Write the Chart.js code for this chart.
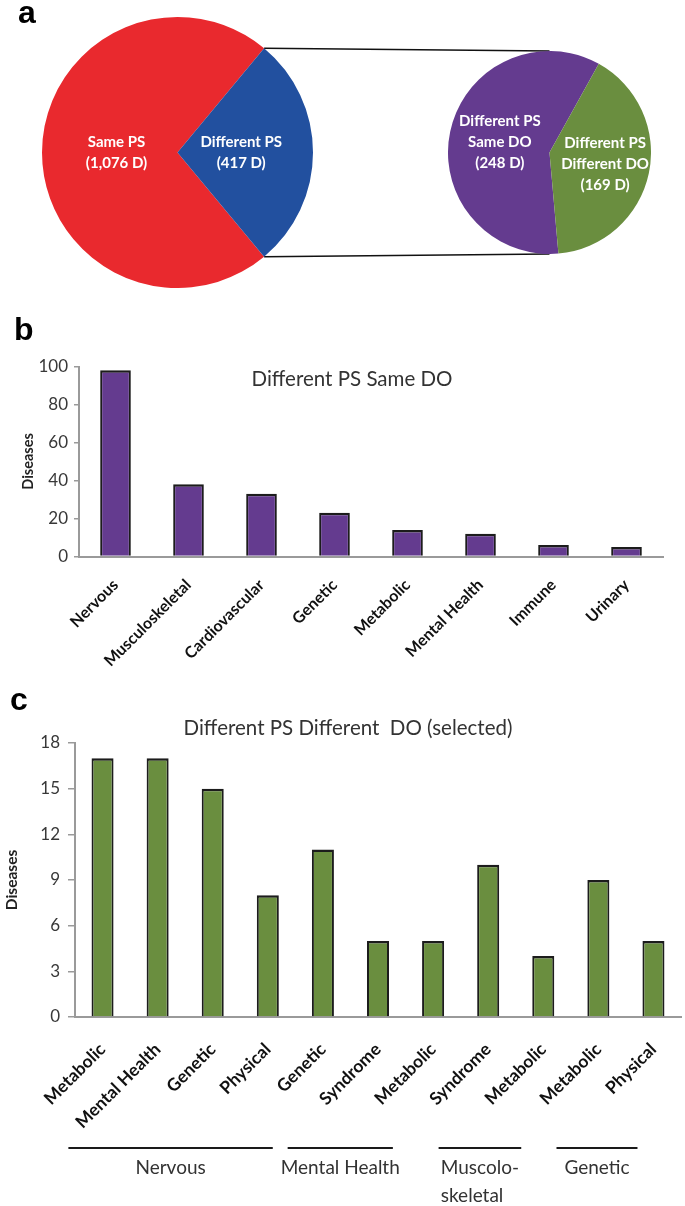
<!DOCTYPE html>
<html>
<head>
<meta charset="utf-8">
<script src="https://cdn.jsdelivr.net/npm/chart.js@4.4.1/dist/chart.umd.min.js"></script>
<style>
  body { margin: 0; background: #fff; }
  #page { position: relative; width: 685px; height: 1206px; overflow: hidden; background: #fff; }
  canvas { position: absolute; }
  .tag { position: absolute; font-family: "Liberation Sans", Arial, sans-serif; font-weight: bold; font-size: 32px; line-height: 1; color: #000; }
</style>
</head>
<body>
<div id="page">
  <canvas id="links" width="685" height="295" style="left:0;top:0"></canvas>
  <canvas id="pieAll" width="271" height="271" style="left:42px;top:17px"></canvas>
  <canvas id="pieDiff" width="203" height="203" style="left:448px;top:51px"></canvas>
  <canvas id="sameDo" width="685" height="380" style="left:0;top:300px"></canvas>
  <canvas id="diffDo" width="685" height="526" style="left:0;top:680px"></canvas>
  <div class="tag" style="left:18px;top:-4px">a</div>
  <div class="tag" style="left:14px;top:313px">b</div>
  <div class="tag" style="left:10px;top:683px">c</div>
</div>
<script>
// panel a: all diseases split by phenotype similarity
const psLabels = ["Same PS", "Different PS"];
const psCounts = [1076, 417];
// zoom pie: the "Different PS" diseases split by disease ontology
const doLabels = ["Different PS\nSame DO", "Different PS\nDifferent DO"];
const doCounts = [248, 169];

// panel b
const sameDoSystems = ["Nervous", "Musculoskeletal", "Cardiovascular", "Genetic",
  "Metabolic", "Mental Health", "Immune", "Urinary"];
const sameDoCounts = [98, 38, 33, 23, 14, 12, 6, 5];
const sameDoTicks = [0, 20, 40, 60, 80, 100];

// panel c
const diffDoTypes = ["Metabolic", "Mental Health", "Genetic", "Physical", "Genetic", "Syndrome",
  "Metabolic", "Syndrome", "Metabolic", "Metabolic", "Physical"];
const diffDoCounts = [17, 17, 15, 8, 11, 5, 5, 10, 4, 9, 5];
const diffDoTicks = [0, 3, 6, 9, 12, 15, 18];
const diffDoGroups = ["Nervous", "Mental Health", "Muscolo-\nskeletal", "Genetic"];

Chart.defaults.font.family = "Lato, 'Open Sans', sans-serif";
Chart.defaults.color = "#404040";

// white text inside each slice
const sliceText = {
  id: "sliceText",
  afterDatasetsDraw(chart, args, opts) {
    const ctx = chart.ctx;
    const arcs = chart.getDatasetMeta(0).data;
    ctx.save();
    ctx.fillStyle = "#fff";
    ctx.font = "bold 15px Lato";
    ctx.textAlign = "center";
    ctx.textBaseline = "middle";
    arcs.forEach((arc, i) => {
      const mid = (arc.startAngle + arc.endAngle) / 2;
      const r = arc.outerRadius * opts.reach[i];
      const cx = arc.x + Math.cos(mid) * r;
      const cy = arc.y + Math.sin(mid) * r;
      const lines = chart.data.labels[i].split("\n");
      lines.push("(" + chart.data.datasets[0].data[i].toLocaleString("en-US") + " D)");
      lines.forEach((t, k) => ctx.fillText(t, cx, cy + (k - (lines.length - 1) / 2) * 21));
    });
    ctx.restore();
  }
};

function pieConfig(labels, counts, colors, rotation, reach) {
  return {
    type: "pie",
    data: { labels: labels, datasets: [{ data: counts, backgroundColor: colors, borderWidth: 0 }] },
    options: {
      responsive: false,
      animation: false,
      rotation: rotation,
      layout: { padding: 0 },
      plugins: { legend: { display: false }, tooltip: { enabled: false }, sliceText: { reach: reach } }
    },
    plugins: [sliceText]
  };
}

const psTotal = psCounts[0] + psCounts[1];
const diffSpan = psCounts[1] / psTotal * 360;
const pieAll = new Chart(document.getElementById("pieAll"),
  pieConfig(psLabels, psCounts, ["#e9292e", "#22509f"], 90 + diffSpan / 2, [0.45, 0.47]));

const doTotal = doCounts[0] + doCounts[1];
const greenSpan = doCounts[1] / doTotal * 360;
const pieDiff = new Chart(document.getElementById("pieDiff"),
  pieConfig(doLabels, doCounts, ["#643b8f", "#6a8e3f"], 90 + 12 + greenSpan / 2, [0.5, 0.56]));

// lines joining the "Different PS" slice to the zoom pie
(function drawLinks() {
  const ctx = document.getElementById("links").getContext("2d");
  const c1 = pieAll.canvas, c2 = pieDiff.canvas;
  const blue = pieAll.getDatasetMeta(0).data[1];
  const zoom = pieDiff.getDatasetMeta(0).data[0];
  const ends = [blue.startAngle, blue.endAngle];
  const tops = [-1, 1];
  ctx.strokeStyle = "#111";
  ctx.lineWidth = 1.6;
  ends.forEach((a, i) => {
    ctx.beginPath();
    ctx.moveTo(c1.offsetLeft + blue.x + Math.cos(a) * blue.outerRadius,
               c1.offsetTop + blue.y + Math.sin(a) * blue.outerRadius);
    ctx.lineTo(c2.offsetLeft + zoom.x, c2.offsetTop + zoom.y + tops[i] * zoom.outerRadius);
    ctx.stroke();
  });
})();

// text caption drawn inside the plot
const plotCaption = {
  id: "plotCaption",
  afterDraw(chart, args, opts) {
    const ctx = chart.ctx;
    ctx.save();
    ctx.font = opts.size + "px Lato";
    ctx.fillStyle = "#333";
    ctx.textAlign = "center";
    ctx.textBaseline = "middle";
    ctx.fillText(opts.text, opts.x, opts.y);
    ctx.restore();
  }
};

// group brackets under panel c
const groupLines = [[-0.62, 3.09], [3.36, 5.27], [6.1, 7.6], [8.24, 9.71]];
const groupBrackets = {
  id: "groupBrackets",
  afterDraw(chart) {
    const ctx = chart.ctx;
    const x = chart.scales.x;
    const step = x.getPixelForTick(1) - x.getPixelForTick(0);
    const px = i => x.getPixelForTick(0) + i * step;
    ctx.save();
    ctx.strokeStyle = "#1a1a1a";
    ctx.lineWidth = 2;
    ctx.fillStyle = "#333";
    ctx.font = "19px Lato";
    ctx.textBaseline = "middle";
    diffDoGroups.forEach((name, g) => {
      const a = px(groupLines[g][0]), b = px(groupLines[g][1]);
      ctx.beginPath();
      ctx.moveTo(a, 468);
      ctx.lineTo(b, 468);
      ctx.stroke();
      const lines = name.split("\n");
      const w = ctx.measureText(lines[0]).width;
      const left = (a + b) / 2 - w / 2;
      lines.forEach((t, k) => ctx.fillText(t, left, 488 + k * 28));
    });
    ctx.restore();
  }
};

function barConfig(opt) {
  return {
    type: "bar",
    data: {
      labels: opt.labels,
      datasets: [{
        data: opt.values,
        backgroundColor: opt.color,
        borderColor: "#1c1c1c",
        borderWidth: { top: 2.5, left: 2, right: 2, bottom: 0 },
        categoryPercentage: 1,
        barPercentage: opt.barPct
      }]
    },
    options: {
      responsive: false,
      animation: false,
      layout: { padding: { top: opt.top, right: opt.right, left: 0, bottom: 0 } },
      plugins: {
        legend: { display: false },
        tooltip: { enabled: false },
        plotCaption: opt.caption
      },
      scales: {
        x: {
          grid: { display: false },
          border: { display: true, color: "#9a9a9a", width: 2 },
          ticks: {
            autoSkip: false, maxRotation: 45, minRotation: 45,
            font: { size: opt.xFont, weight: "bold" }, color: "#111", padding: opt.xPad
          },
          afterFit: s => { s.height = opt.xHeight; }
        },
        y: {
          min: 0,
          max: opt.ticks[opt.ticks.length - 1],
          afterBuildTicks: s => { s.ticks = opt.ticks.map(v => ({ value: v })); },
          grid: { drawOnChartArea: false, drawTicks: true, tickLength: opt.tickLen, color: "#9a9a9a", lineWidth: 1.5 },
          border: { display: true, color: "#9a9a9a", width: 2 },
          ticks: { font: { size: 17 }, color: "#383838", padding: opt.yPad },
          title: {
            display: true, text: "Diseases", color: "#222",
            font: { size: opt.titleFont, weight: "bold" }, padding: { top: opt.titlePad, bottom: 0 }
          },
          afterFit: s => { s.width = opt.left; }
        }
      }
    },
    plugins: opt.extra ? [plotCaption, opt.extra] : [plotCaption]
  };
}

new Chart(document.getElementById("sameDo"), barConfig({
  labels: sameDoSystems, values: sameDoCounts, ticks: sameDoTicks,
  color: "#643b8f", barPct: 0.42,
  top: 66.5, right: 22, left: 79, xHeight: 123.5,
  xFont: 16, xPad: 11, tickLen: 5, yPad: 6, titleFont: 14.5, titlePad: 20,
  caption: { text: "Different PS Same DO", x: 352, y: 79, size: 20.5 }
}));

new Chart(document.getElementById("diffDo"), barConfig({
  labels: diffDoTypes, values: diffDoCounts, ticks: diffDoTicks,
  color: "#6a8e3f", barPct: 0.4,
  top: 63, right: 4, left: 75, xHeight: 189,
  xFont: 17.5, xPad: 14, tickLen: 7, yPad: 8, titleFont: 15.5, titlePad: 3,
  caption: { text: "Different PS Different  DO (selected)", x: 348, y: 48, size: 20.5 },
  extra: groupBrackets
}));
</script>
</body>
</html>
